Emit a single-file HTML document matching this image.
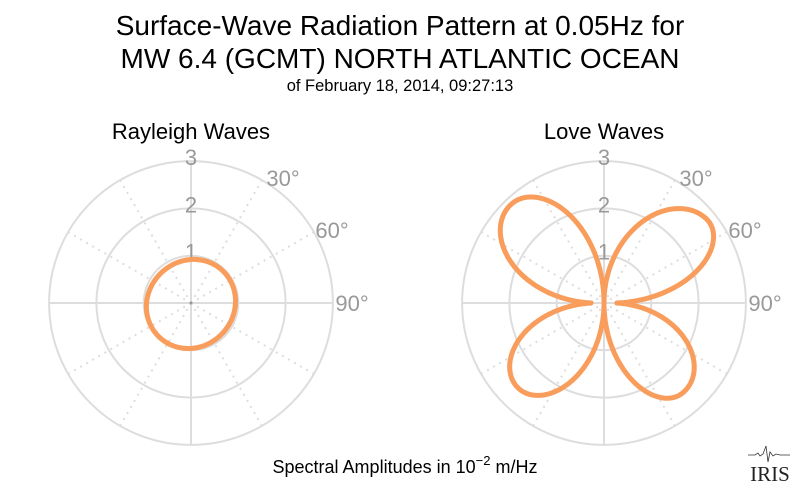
<!DOCTYPE html>
<html><head><meta charset="utf-8"><style>
html,body{margin:0;padding:0;background:#fff;}
svg{display:block;font-family:"Liberation Sans",sans-serif;}
</style></head><body>
<svg id="s" width="800" height="493" viewBox="0 0 800 493" xmlns="http://www.w3.org/2000/svg">
<text x="400" y="35" font-size="28" text-anchor="middle" fill="#000">Surface-Wave Radiation Pattern at 0.05Hz for</text>
<text x="400" y="68" font-size="28" text-anchor="middle" fill="#000">MW 6.4 (GCMT) NORTH ATLANTIC OCEAN</text>
<text x="400" y="91" font-size="16.5" text-anchor="middle" fill="#000">of February 18, 2014, 09:27:13</text>
<text x="191" y="139" font-size="22" text-anchor="middle" fill="#000">Rayleigh Waves</text>
<text x="604" y="139" font-size="22" text-anchor="middle" fill="#000">Love Waves</text>
<g id="g1"></g><g id="g2"></g>
<text x="405" y="473" font-size="18" text-anchor="middle" fill="#000">Spectral Amplitudes in 10<tspan dy="-8" font-size="13">−2</tspan><tspan dy="8"> m/Hz</tspan></text>
<polyline points="748,455 755,455 758,453 760,456 763,454 766,446 768,462 770,452 773,456 776,454 780,455 790,455" fill="none" stroke="#333" stroke-width="0.8"/>
<text x="770" y="481" font-size="21" text-anchor="middle" font-family="Liberation Serif,serif" fill="#222">IRIS</text>
</svg>
<script>
function grid(g,cx,cy){
 var s='',u=47.3;
 for(var i=1;i<=3;i++) s+='<circle cx="'+cx+'" cy="'+cy+'" r="'+(u*i)+'" fill="none" stroke="#ddd" stroke-width="2"/>';
 for(var a=0;a<360;a+=30){var t=a*Math.PI/180,x=cx+142*Math.sin(t),y=cy-142*Math.cos(t);
  var d=(a%90==0)?'':' stroke-dasharray="2,5"';
  s+='<line x1="'+cx+'" y1="'+cy+'" x2="'+x.toFixed(1)+'" y2="'+y.toFixed(1)+'" stroke="#ddd" stroke-width="2"'+d+'/>';}
 s+='<circle cx="'+cx+'" cy="'+cy+'" r="1.5" fill="#999"/>';
 for(var i=1;i<=3;i++) s+='<text x="'+cx+'" y="'+(cy-u*i+4)+'" font-size="22" fill="#999" text-anchor="middle">'+i+'</text>';
 var L=[[92,-125,'30°'],[141,-73,'60°'],[161,0,'90°']];
 L.forEach(function(l){
  s+='<text x="'+(cx+l[0])+'" y="'+(cy+l[1]+8)+'" font-size="22" fill="#999" text-anchor="middle">'+l[2]+'</text>';});
 return s;}
function curve(cx,cy,f){var p='';for(var i=0;i<=1440;i++){var t=i/1440*2*Math.PI,r=f(t)*47.3;
 p+=(i?'L':'M')+(cx+r*Math.sin(t)).toFixed(1)+','+(cy-r*Math.cos(t)).toFixed(1);}
 return '<path d="'+p+'Z" fill="none" stroke="#f99d5d" stroke-width="5" stroke-linejoin="round"/>';}
var K=[[0,0],[51,45],[90,90],[140,135],[180,180],[224,225],[270,270],[318,315],[360,360]];
var A=[2.64,2.41,2.42,2.74];
function warp(d){for(var i=0;i<K.length-1;i++){if(d<=K[i+1][0]){var f=(d-K[i][0])/(K[i+1][0]-K[i][0]);return K[i][1]+f*(K[i+1][1]-K[i][1]);}}return d;}
document.getElementById('g1').innerHTML=grid(0,191,303)+curve(191,303,function(t){return 0.94+0.03*Math.sin(2*t)-0.02*Math.cos(t);});
document.getElementById('g2').innerHTML=grid(0,604,303)+curve(604,303,function(t){
 var d=t*180/Math.PI;var g=warp(d)*Math.PI/180;var q=Math.min(3,Math.floor(d/90));var s=Math.sin(t);
 return Math.abs(Math.sin(2*g))*A[q]+0.27*s*s;});
</script>
</body></html>
